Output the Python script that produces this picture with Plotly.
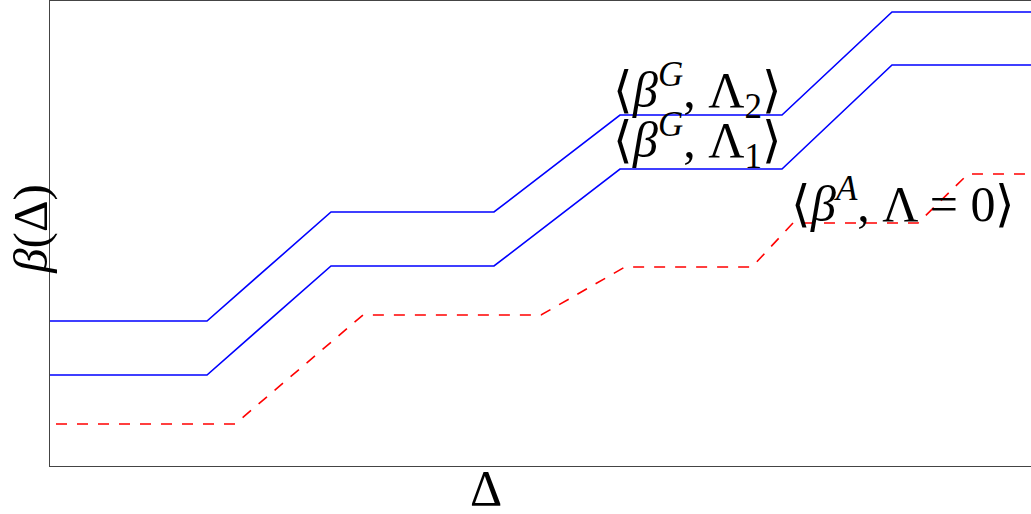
import plotly.graph_objects as go

# Data (arbitrary units)
x_g2 = [0.00, 1.57, 2.81, 4.44, 5.70, 7.32, 8.42, 9.81]
y_g2 = [1.45, 1.45, 2.54, 2.54, 3.51, 3.51, 4.54, 4.54]
x_g1 = [0.00, 1.57, 2.81, 4.44, 5.70, 7.32, 8.42, 9.81]
y_g1 = [0.91, 0.91, 2.00, 2.00, 2.97, 2.97, 4.01, 4.01]
x_a = [0.06, 1.85, 3.13, 4.91, 5.75, 7.02, 7.43, 8.68, 9.18, 9.81]
y_a = [0.42, 0.42, 1.51, 1.51, 1.99, 1.99, 2.43, 2.43, 2.92, 2.92]

labels = ["⟨<i>β</i><sup><i>G</i></sup>, Λ<sub>2</sub>⟩",
          "⟨<i>β</i><sup><i>G</i></sup>, Λ<sub>1</sub>⟩",
          "⟨<i>β</i><sup><i>A</i></sup>, Λ = 0⟩"]
label_x = [6.47, 6.47, 8.53]
label_y = [3.76, 3.26, 2.66]

FONT = "Liberation Serif"

fig = go.Figure()
fig.add_trace(go.Scatter(x=x_g2, y=y_g2, mode="lines",
                         line=dict(color="#0000ff", width=1.6), showlegend=False))
fig.add_trace(go.Scatter(x=x_g1, y=y_g1, mode="lines",
                         line=dict(color="#0000ff", width=1.6), showlegend=False))
fig.add_trace(go.Scatter(x=x_a, y=y_a, mode="lines",
                         line=dict(color="#ff0000", width=1.6, dash="11px,10px"),
                         showlegend=False))

for t, lx, ly in zip(labels, label_x, label_y):
    fig.add_annotation(x=lx, y=ly, xref="x", yref="y", text=t, showarrow=False,
                       xanchor="center", yanchor="middle",
                       font=dict(family=FONT, size=50, color="black"))

fig.add_annotation(x=0.444, y=-0.047, xref="paper", yref="paper", text="Δ",
                   showarrow=False, xanchor="center", yanchor="middle",
                   font=dict(family=FONT, size=50, color="black"))
fig.add_annotation(x=-0.0194, y=0.51, xref="paper", yref="paper",
                   text="<i>β</i>(Δ)", textangle=-90,
                   showarrow=False, xanchor="center", yanchor="middle",
                   font=dict(family=FONT, size=49, color="black"))

fig.update_xaxes(range=[0, 9.81], showgrid=False, zeroline=False,
                 showticklabels=False, ticks="", showline=True,
                 linecolor="#444", linewidth=1, mirror=True)
fig.update_yaxes(range=[0, 4.65], showgrid=False, zeroline=False,
                 showticklabels=False, ticks="", showline=True,
                 linecolor="#444", linewidth=1, mirror=False)

fig.update_layout(width=1031, height=514,
                  margin=dict(l=50, r=0, t=1, b=48),
                  plot_bgcolor="white", paper_bgcolor="white")

fig.write_html("out.html")
